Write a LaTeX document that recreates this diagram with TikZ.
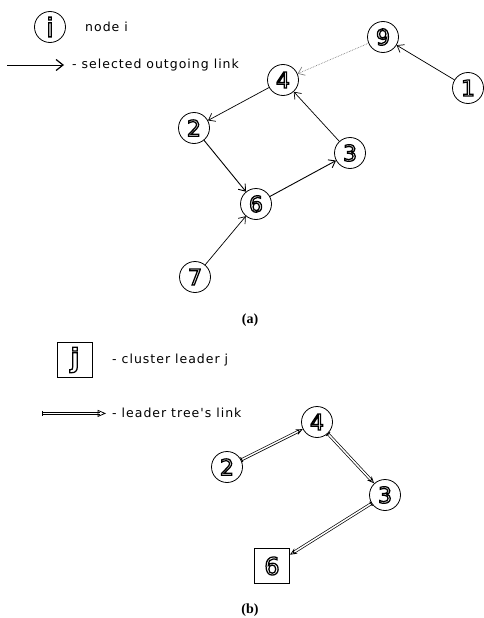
\documentclass[tikz,border=0pt]{standalone}
\usepackage{fontspec}
\setmainfont{DejaVu Sans}
\newfontfamily\labfont{DejaVu Sans}[LetterSpace=8]
\newfontfamily\capfont{Liberation Serif}
\usetikzlibrary{arrows.meta}
\newcommand{\hol}[1]{\special{pdf:literal direct q 1 Tr 1.25 w}#1\special{pdf:literal direct Q}}
\tikzset{
 nd/.style={circle,draw,line width=0.8pt,minimum size=31pt,inner sep=0pt,font=\fontsize{22}{22}\selectfont},
 ld/.style={rectangle,draw,line width=0.9pt,minimum size=35pt,inner sep=0pt,font=\fontsize{24}{24}\selectfont},
 lbl/.style={anchor=west,font=\labfont\fontsize{12.5}{13}\selectfont,inner sep=0pt},
 captext/.style={font=\capfont\bfseries\fontsize{14}{14}\selectfont},
 lnk/.style={line width=0.7pt,-{Straight Barb[length=6pt,width=9pt]}},
 sel/.style={lnk,densely dotted,gray},
 treeline/.style={line width=0.7pt},
 tree/.style={double=white,double distance=1.5pt,line width=0.7pt,{Bar[width=5pt,line width=1pt]}-{Stealth[open,length=7pt,width=6pt,line width=0.8pt]}},
}
\begin{document}
\begin{tikzpicture}[x=1pt,y=-1pt]
\useasboundingbox (0,0) rectangle (484,618);
% legend (a)
\node[nd,font=\fontsize{26}{26}\selectfont] (li) at (50,27) {\hol{i}};
\node[lbl] (lit) at (85,27) {node i};
\coordinate (la1) at (7,65);
\coordinate (la2) at (64,65);
\draw[line width=0.7pt,-{Straight Barb[length=7pt,width=11pt,line width=1.2pt]}] (la1) -- (la2);
\node[lbl] (lat) at (72,65) {- selected outgoing link};
% graph (a)
\node[nd] (n9) at (383,37) {\hol{9}};
\node[nd] (n4) at (283,80) {\hol{4}};
\node[nd] (n1) at (468,88) {\hol{1}};
\node[nd] (n2) at (194,128) {\hol{2}};
\node[nd] (n3) at (350,153) {\hol{3}};
\node[nd] (n6) at (256,204) {\hol{6}};
\node[nd] (n7) at (195,277) {\hol{7}};
\draw[sel] (n9) -- (n4);
\draw[lnk] (n1) -- (n9);
\draw[lnk] (n4) -- (n2);
\draw[lnk] (n3) -- (n4);
\draw[lnk,line width=0.9pt] (n2) -- (n6);
\draw[lnk,line width=0.9pt] (n6) -- (n3);
\draw[lnk] (n7) -- (n6);
\node[captext] (ca) at (250,320) {(a)};
% legend (b)
\node[ld,font=\fontsize{26}{26}\selectfont\bfseries] (lj) at (75,360) {\hol{j}};
\node[lbl] (ljt) at (112,360) {- cluster leader j};
\coordinate (lt1) at (42,413.4);
\coordinate (lt2) at (105,413.4);
\draw[treeline] ([yshift=1.2pt]lt1) -- ([yshift=1.2pt,xshift=-5pt]lt2);
\draw[treeline] ([yshift=-1.2pt]lt1) -- ([yshift=-1.2pt,xshift=-5pt]lt2);
\draw[line width=1pt] ([yshift=2.5pt]lt1) -- ([yshift=-2.5pt]lt1);
\draw[line width=0.8pt] ([xshift=-7pt,yshift=3pt]lt2) -- (lt2) -- ([xshift=-7pt,yshift=-3pt]lt2) -- cycle;
\node[lbl] (ltt) at (112,413) {- leader tree's link};
% graph (b)
\node[nd] (b4) at (317,422) {\hol{4}};
\node[nd] (b2) at (227,467) {\hol{2}};
\node[nd] (b3) at (385,495) {\hol{3}};
\node[ld] (b6) at (272,566) {\hol{6}};
\draw[tree] (b2) -- (b4);
\draw[tree] (b4) -- (b3);
\draw[tree] (b3) -- (b6);
\node[captext] (cb) at (250,610) {(b)};
\end{tikzpicture}
\end{document}
